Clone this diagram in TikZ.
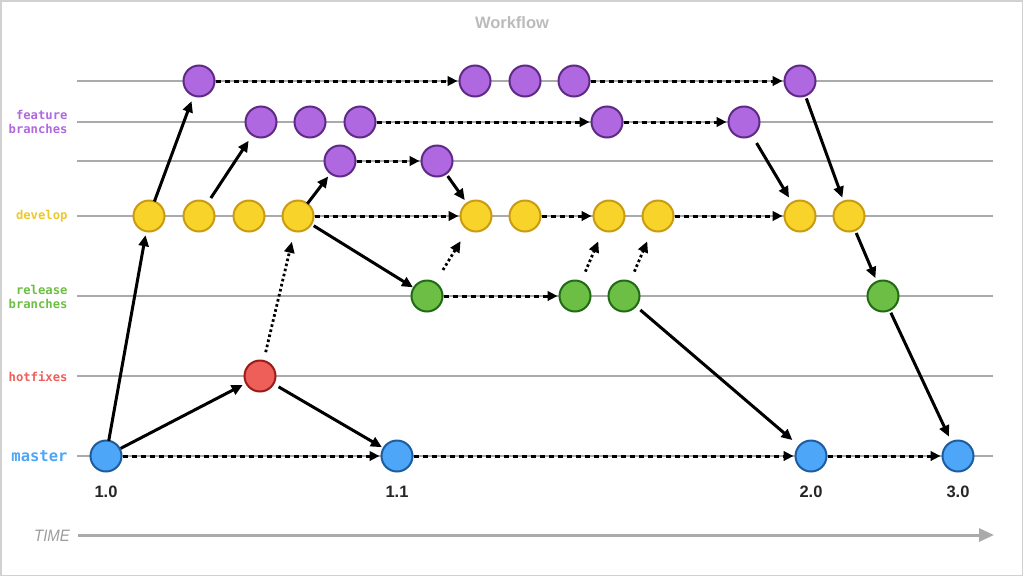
\documentclass[tikz,border=0pt]{standalone}
\usepackage{fontspec}
\setmainfont{Liberation Sans}
\newfontfamily\monofnt{DejaVu Sans Mono}
\usetikzlibrary{arrows.meta}
\definecolor{pfill}{HTML}{B068E0}
\definecolor{pdraw}{HTML}{5E2A86}
\definecolor{yfill}{HTML}{F8D42B}
\definecolor{ydraw}{HTML}{C99A12}
\definecolor{gfill}{HTML}{6DBE45}
\definecolor{gdraw}{HTML}{1F6A12}
\definecolor{rfill}{HTML}{EE5F5A}
\definecolor{rdraw}{HTML}{9B1B16}
\definecolor{bfill}{HTML}{4DA6F8}
\definecolor{bdraw}{HTML}{1D5C9E}
\definecolor{lanegray}{HTML}{AAAAAA}
\definecolor{timegray}{HTML}{9C9C9C}
\definecolor{titlegray}{HTML}{BBBBBB}
\tikzset{
  commit/.style={circle, minimum size=31pt, inner sep=0pt, outer sep=0pt, line width=2pt},
  pnode/.style={commit, fill=pfill, draw=pdraw},
  ynode/.style={commit, fill=yfill, draw=ydraw},
  gnode/.style={commit, fill=gfill, draw=gdraw},
  rnode/.style={commit, fill=rfill, draw=rdraw},
  bnode/.style={commit, fill=bfill, draw=bdraw},
  lane/.style={draw=lanegray, line width=1.5pt},
  merge/.style={draw=black, line width=3pt, -{Triangle[length=11pt,width=10pt]}, shorten <=3pt, shorten >=4pt},
  dotarrow/.style={draw=black, line width=2.8pt, dash pattern=on 2.6pt off 2.6pt, -{Triangle[length=11pt,width=10pt]}, shorten <=11pt, shorten >=12pt},
  flow/.style={draw=black, line width=3pt, dash pattern=on 5.5pt off 3.5pt, -{Triangle[length=10pt,width=9.5pt]}, shorten <=1pt, shorten >=2pt},
  lanelabel/.style={anchor=east, align=right, font=\monofnt\bfseries\fontsize{12.2}{14}\selectfont},
  version/.style={font=\bfseries\fontsize{16.5}{18}\selectfont, text=black!85},
}
\begin{document}
\begin{tikzpicture}[x=1pt,y=-1pt]
\useasboundingbox (0,0) rectangle (1024,576);
\draw[black!18, line width=1.5pt] (0.75,0.75) rectangle (1022.5,575.25);

% title
\node[font=\bfseries\fontsize{16.5}{18}\selectfont, text=titlegray] (title) at (512,23) {Workflow};

% lanes
\foreach \y in {81,122,161,216,296,376,456}
  \draw[lane] (77,\y) -- (993,\y);

% lane labels
\node[lanelabel, text=pfill] (lfeat) at (71,121.5) {feature\\branches};
\node[lanelabel, text=yfill!95!black] (ldev) at (71,216.5) {develop};
\node[lanelabel, text=gfill] (lrel) at (71,297) {release\\branches};
\node[lanelabel, text=rfill] (lhot) at (71,376.5) {hotfixes};
\node[lanelabel, text=bfill, font=\monofnt\bfseries\fontsize{15.5}{17}\selectfont] (lmas) at (71,456) {master};

% feature commits
\node[pnode] (p1a) at (199,81) {};
\node[pnode] (p1b) at (475,81) {};
\node[pnode] (p1c) at (525,81) {};
\node[pnode] (p1d) at (574,81) {};
\node[pnode] (p1e) at (800,81) {};
\node[pnode] (p2a) at (261,122) {};
\node[pnode] (p2b) at (310,122) {};
\node[pnode] (p2c) at (360,122) {};
\node[pnode] (p2d) at (607,122) {};
\node[pnode] (p2e) at (744,122) {};
\node[pnode] (p3a) at (340,161) {};
\node[pnode] (p3b) at (437,161) {};

% develop commits
\node[ynode] (d1) at (149,216) {};
\node[ynode] (d2) at (199,216) {};
\node[ynode] (d3) at (249,216) {};
\node[ynode] (d4) at (298,216) {};
\node[ynode] (d5) at (476,216) {};
\node[ynode] (d6) at (525,216) {};
\node[ynode] (d7) at (609,216) {};
\node[ynode] (d8) at (658,216) {};
\node[ynode] (d9) at (800,216) {};
\node[ynode] (d10) at (849,216) {};

% release commits
\node[gnode] (g1) at (427,296) {};
\node[gnode] (g2) at (575,296) {};
\node[gnode] (g3) at (624,296) {};
\node[gnode] (g4) at (883,296) {};

% hotfix
\node[rnode] (h1) at (260,376) {};

% master
\node[bnode] (m1) at (106,456) {};
\node[bnode] (m2) at (397,456) {};
\node[bnode] (m3) at (811,456) {};
\node[bnode] (m4) at (958,456) {};

% versions
\node[version] (v1) at (106,492) {1.0};
\node[version] (v2) at (397,492) {1.1};
\node[version] (v3) at (811,492) {2.0};
\node[version] (v4) at (958,492) {3.0};

% dashed flows
\draw[flow] (p1a) -- (p1b);
\draw[flow] (p1d) -- (p1e);
\draw[flow] (p2c) -- (p2d);
\draw[flow] (p2d) -- (p2e);
\draw[flow] (p3a) -- (p3b);
\draw[flow] (d4) -- (d5);
\draw[flow] (d6) -- (d7);
\draw[flow] (d8) -- (d9);
\draw[flow] (g1) -- (g2);
\draw[flow] (m1) -- (m2);
\draw[flow] (m2) -- (m3);
\draw[flow] (m3) -- (m4);

% solid branch / merge arrows
\draw[merge, shorten <=0pt] (m1) -- (d1);
\draw[merge, shorten <=0pt, shorten >=6pt] (d1) -- (p1a);
\draw[merge, shorten <=6pt, shorten >=7pt] (d2) -- (p2a);
\draw[merge, shorten <=0pt] (d4) -- (p3a);
\draw[merge] (p3b) -- (d5);
\draw[merge, shorten >=1pt] (d4) -- (g1);
\draw[merge, shorten <=1pt] (m1) -- (h1);
\draw[merge, shorten <=6pt, shorten >=2pt] (h1) -- (m2);
\draw[merge, shorten <=6pt, shorten >=9pt] (g3) -- (m3);
\draw[merge, shorten <=9pt, shorten >=6pt] (p2e) -- (d9);
\draw[merge] (p1e) -- (d10);
\draw[merge] (d10) -- (g4);
\draw[merge, shorten >=6pt] (g4) -- (m4);

% dotted merges back into develop
\draw[dotarrow, shorten <=9pt, shorten >=11pt] (h1) -- (d4);
\draw[dotarrow, shorten <=15pt, shorten >=14pt] (g1) -- (d5);
\draw[dotarrow] (g2) -- (d7);
\draw[dotarrow] (g3) -- (d8);

% time axis
\node[font=\itshape\fontsize{15}{17}\selectfont, text=timegray, yscale=1.1] (time) at (52,536) {TIME};
\coordinate (tstart) at (78,535);
\coordinate (tend) at (994,535);
\draw[draw=lanegray, line width=3pt, -{Triangle[length=15pt,width=13pt]}] (tstart) -- (tend);
\end{tikzpicture}
\end{document}
